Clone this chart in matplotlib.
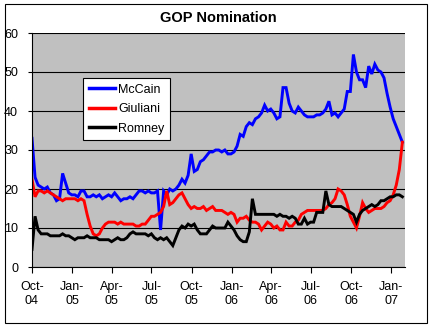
import numpy as np
import pandas as pd
import matplotlib
matplotlib.use("Agg")
import matplotlib.pyplot as plt
import matplotlib.dates as mdates
from matplotlib.patches import Rectangle

plt.rcParams['font.family'] = ['Liberation Sans', 'DejaVu Sans']

# --- Data (weekly readings, Oct 2004 - Jan 2007) ---
week_start = '2004-10-01'
n_weeks = 122

mccain = [33, 23, 21, 20.5, 20, 20.5, 19, 18.5, 17, 17.5,
          24, 21.5, 19, 18.5, 18.5, 18, 19.5, 19.5, 18, 18,
          18.5, 18, 18.5, 17.5, 18, 18.5, 18, 19, 18, 17,
          17.5, 17.5, 18, 17.5, 18.5, 19.5, 19.5, 19, 19.5, 19,
          19, 19.5, 9.5, 19.5, 18.5, 20, 19.5, 20, 21, 22.5,
          21.5, 23.5, 29, 24.5, 25, 27, 27.5, 28.5, 29.5, 29.5,
          30, 30, 29.5, 30, 29, 29, 29.5, 31, 34, 33.5,
          36, 37, 36.5, 38, 38.5, 39.5, 41.5, 40, 40.5, 39.5,
          38, 38.5, 46, 46, 42, 40, 39.5, 41, 40, 39,
          38.5, 38.5, 38.5, 39, 39, 39.5, 40.5, 42.5, 39, 39.5,
          38.5, 39.5, 40.5, 45, 45, 54.5, 50, 48, 48, 46,
          51.5, 49.5, 52, 50.5, 50, 48.5, 44.5, 41, 38, 36,
          34, 32]

giuliani = [22.5, 18, 19.5, 19.5, 19, 19.5, 19, 18.5, 18, 17.5,
            17, 17.5, 17.5, 17.5, 17.5, 17, 17.5, 17, 13.5, 10.5,
            8.5, 8, 8.5, 10, 11, 11.5, 11.5, 11.5, 11, 11.5,
            11, 11, 11, 11, 10.5, 10.5, 11, 11, 12, 13,
            13, 13.5, 14, 15.5, 19.5, 16, 16.5, 17.5, 18.5, 19,
            17.5, 16, 15, 15.5, 15, 15, 15.5, 14.5, 15, 15.5,
            14.5, 14.5, 14.5, 14, 13.5, 14, 13.5, 11.5, 12.5, 12.5,
            13, 12, 11.5, 11.5, 11, 9.5, 10.5, 11.5, 11, 10,
            10.5, 9.5, 9.5, 11.5, 10.5, 10.5, 11.5, 12, 13.5, 14,
            14.5, 14.5, 14.5, 14.5, 14.5, 14.5, 15, 16, 16.5, 17.5,
            20, 19.5, 18.5, 16, 13, 11.5, 10, 13, 16.5, 15,
            14, 14.5, 15, 15, 15, 15.5, 16.5, 17, 18.5, 21,
            25, 32]

romney = [4.5, 13, 9.5, 8.5, 8.5, 8.5, 8, 8, 8, 8,
          8.5, 8, 8, 7.5, 7, 7.5, 7.5, 7.5, 8, 7.5,
          7.5, 7.5, 7, 7, 7, 7, 6.5, 7, 7.5, 7,
          7, 7.5, 8.5, 9, 8.5, 8.5, 8.5, 8.5, 8, 8.5,
          7.5, 7, 7.5, 7, 7.5, 6.5, 5.5, 7.5, 9.5, 10.5,
          10, 11, 10.5, 11, 9.5, 8.5, 8.5, 8.5, 9.5, 10.5,
          10, 10, 10, 10, 11.5, 10.5, 9.5, 8, 7, 6.5,
          6.5, 9, 17.5, 13.5, 13.5, 13.5, 13.5, 13.5, 13.5, 13.5,
          13, 13.5, 13, 13, 12.5, 13, 12.5, 11, 11, 12.5,
          11, 11.5, 11.5, 14, 14, 14, 19.5, 16, 15.5, 15.5,
          15.5, 15.5, 15, 14.5, 14, 13.5, 11.5, 13.5, 14.5, 15,
          15.5, 16, 15.5, 16, 17, 17, 17.5, 18, 18, 18.5,
          18.5, 18]

dates = pd.date_range(week_start, periods=n_weeks, freq='7D')
series = [('McCain', mccain, '#0000FF'),
          ('Giuliani', giuliani, '#FF0000'),
          ('Romney', romney, '#000000')]

W, H = 434, 330
fig = plt.figure(figsize=(W / 100, H / 100), dpi=100)
fig.patch.set_facecolor('white')

# outer chart border
fig.patches.append(Rectangle((5 / W, 7 / H), 422 / W, 319 / H, transform=fig.transFigure,
                             fill=False, edgecolor='black', linewidth=0.8))

ax = fig.add_axes([32 / W, 1 - 267 / H, (405 - 32) / W, (267 - 33) / H])
ax.set_facecolor('#C0C0C0')

for name, vals, col in series:
    ax.plot(dates, vals, color=col, linewidth=2.1, label=name, solid_joinstyle='miter')

ax.set_ylim(0, 60)
ax.set_yticks(np.arange(0, 61, 10))
ax.set_xlim(pd.Timestamp('2004-10-01'), pd.Timestamp('2007-02-01'))
ax.xaxis.set_major_locator(mdates.MonthLocator(bymonth=[1, 4, 7, 10]))
ax.xaxis.set_major_formatter(mdates.DateFormatter('%b-\n%y'))

ax.grid(axis='y', color='black', linewidth=0.8)
ax.set_axisbelow(True)
for s in ['top', 'right']:
    ax.spines[s].set_visible(False)
for s in ['left', 'bottom']:
    ax.spines[s].set_linewidth(0.8)

ax.tick_params(axis='x', direction='out', length=4, width=0.8, labelsize=9, pad=6)
ax.tick_params(axis='y', direction='out', length=3, width=0.8, labelsize=9, pad=7)

ax.set_title('GOP Nomination', fontsize=10.5, fontweight='bold', pad=8)

leg = ax.legend(loc='upper left', bbox_to_anchor=(83 / W, 1 - 78 / H),
                bbox_transform=fig.transFigure, borderaxespad=0,
                fancybox=False, framealpha=1, edgecolor='black', fontsize=9,
                handlelength=2.1, handletextpad=0.25, labelspacing=0.6,
                borderpad=0.45)
leg.get_frame().set_linewidth(0.8)
for line in leg.get_lines():
    line.set_linewidth(2.5)

fig.savefig('out.png', dpi=100)
